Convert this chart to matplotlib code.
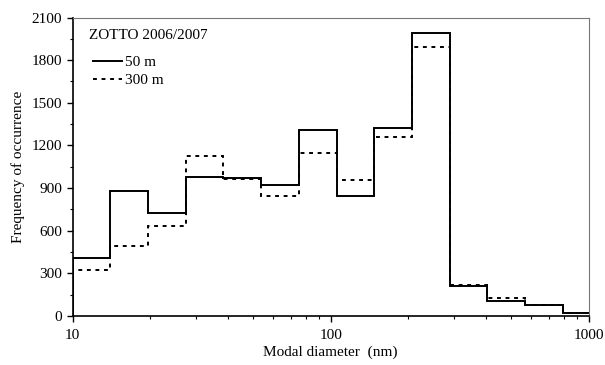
import matplotlib
matplotlib.use('Agg')
import matplotlib.pyplot as plt
from matplotlib.ticker import MultipleLocator, LogLocator, NullFormatter, FixedLocator

plt.rcParams['font.family'] = ['Liberation Serif', 'DejaVu Serif']

# bin edges (nm), log spaced by factor 1.4
edges = [10, 14, 19.6, 27.4, 38.4, 53.8, 75.3, 105.4, 147.6, 206.6,
         289.3, 405, 567, 794, 1111]
freq_50m = [410, 880, 725, 980, 970, 920, 1310, 845, 1320, 1990,
            210, 105, 78, 22]
freq_300m = [325, 490, 635, 1125, 965, 845, 1150, 960, 1260, 1895,
             220, 125, 78, 25]

fig = plt.figure(figsize=(6.05, 3.65), dpi=100)
ax = fig.add_axes([0.120, 0.134, 0.853, 0.818])

ax.stairs(freq_50m, edges, baseline=0, color='black', lw=1.4,
          label='50 m')
ax.stairs(freq_300m, edges, baseline=0, color='black', lw=1.4,
          linestyle=(0, (2.0, 2.4)), label='300 m')

ax.set_xscale('log')
ax.set_xlim(10, 1000)
ax.set_ylim(0, 2100)
ax.xaxis.set_major_locator(FixedLocator([10, 100, 1000]))
ax.xaxis.set_major_formatter(matplotlib.ticker.FixedFormatter(['10', '100', '1000']))
ax.xaxis.set_minor_locator(LogLocator(base=10, subs=range(2, 10)))
ax.xaxis.set_minor_formatter(NullFormatter())
ax.yaxis.set_major_locator(MultipleLocator(300))
ax.yaxis.set_minor_locator(MultipleLocator(150))

ax.tick_params(axis='both', which='major', direction='out', length=4,
               width=1, labelsize=11, colors='black')
ax.tick_params(axis='both', which='minor', direction='out', length=2.5,
               width=0.8)
ax.tick_params(axis='x', which='major', pad=5)

for side in ['left', 'bottom']:
    ax.spines[side].set_linewidth(1.2)
    ax.spines[side].set_color('black')
for side in ['top', 'right']:
    ax.spines[side].set_linewidth(0.8)
    ax.spines[side].set_color('#777777')

ax.set_xlabel('Modal diameter  (nm)', fontsize=11, labelpad=3)
ax.set_ylabel('Frequency of occurrence', fontsize=11, labelpad=5)

# legend title as plain text, entries below it
fig.text(0.147, 0.902, 'ZOTTO 2006/2007', fontsize=11, ha='left', va='center')
leg = ax.legend(loc='upper left', frameon=False, fontsize=11,
                handlelength=1.9, handletextpad=0.2, labelspacing=0.3,
                borderpad=0, borderaxespad=0,
                bbox_to_anchor=(0.1537, 0.848), bbox_transform=fig.transFigure)

fig.savefig('out.png', dpi=100)
